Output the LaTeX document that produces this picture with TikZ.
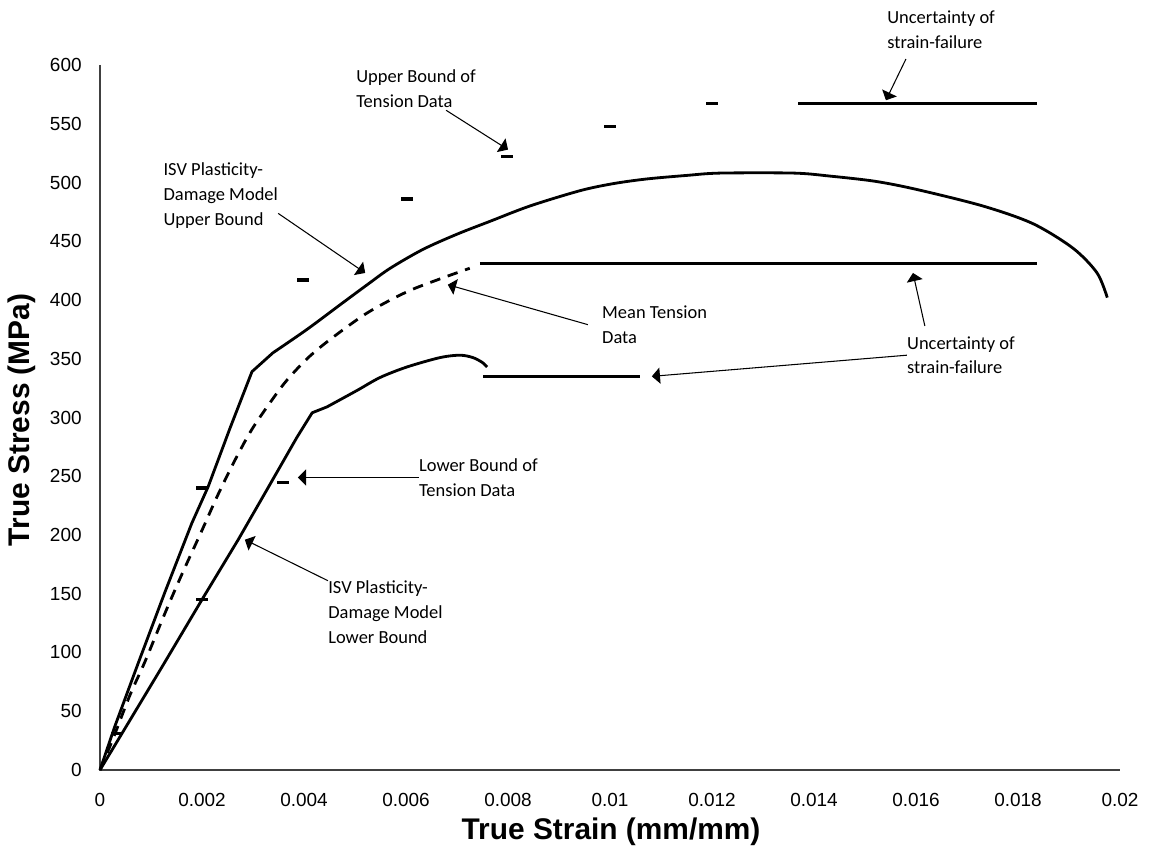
\documentclass[tikz,border=0pt]{standalone}
\usepackage{fontspec}
\setmainfont{Liberation Sans}
\newfontfamily\notefont{Carlito}
\usepackage{tikz}
\usetikzlibrary{arrows}

\begin{document}
\begin{tikzpicture}[x=1.02cm, y=0.0235cm,
  curve/.style={line width=1.6pt, line join=round},
  failline/.style={line width=1.9pt},
  datamark/.style={line width=1.8pt},
  note/.style={font=\notefont\fontsize{10.5}{14.2}\selectfont, align=left, anchor=west, inner sep=0pt},
  pointer/.style={line width=0.6pt, -triangle 90},
  ticklabel/.style={font=\fontsize{10.8}{13}\selectfont, inner sep=0pt},
  axistitle/.style={font=\bfseries\fontsize{17}{20}\selectfont, inner sep=0pt}]
\useasboundingbox (-1.9608,-70.64) rectangle (20.588,655.32);

% axes and labels
\draw[line width=1.1pt, black!75] (0,600) -- (0,0) -- (20,0);
\foreach \s in {0,50,...,600} \node[ticklabel, anchor=east] (ylab\s) at (-0.353,\s) {\s};
\foreach \e/\t in {0/0, 2/0.002, 4/0.004, 6/0.006, 8/0.008, 10/0.01, 12/0.012, 14/0.014, 16/0.016, 18/0.018, 20/0.02}
  \node[ticklabel] (xlab\e) at (\e,-25.5) {\t};
\node[axistitle] (xtitle) at (10.02,-52.8) {True Strain (mm/mm)};
\node[axistitle, rotate=90] (ytitle) at (-1.53,298) {True Stress (MPa)};

% model upper bound
\draw[curve] (0,0) -- (0.29,37) -- (0.75,91) -- (1.27,151) -- (1.8,210) -- (2.12,241) -- (2.55,291) -- (2.98,339)
  -- plot[smooth, tension=0.5] coordinates {(3.39,355) (4.06,375) (4.71,396) (5.24,413) (5.69,427) (6.33,443) (7.0,456) (7.65,467) (8.43,480) (9.41,493) (10.06,499) (10.72,503) (11.5,506) (12.16,508) (13.6,508) (14.3,505.5) (15.2,501) (16.02,494) (17.31,480) (18.29,465) (19.08,444) (19.55,423) (19.75,402)};
% mean tension data
\draw[curve, dash pattern=on 6pt off 4.5pt] plot[smooth, tension=0.5] coordinates {(0,0) (0.25,26) (0.59,64) (0.88,92) (1.27,133) (1.6,166) (2.0,204) (2.31,234) (2.65,264) (2.98,290) (3.39,316) (3.67,332) (4.06,350) (4.5,366) (5.24,389) (6.02,407) (6.67,418) (7.25,427)};
% model lower bound
\draw[curve] (0,0) -- (1.22,88) -- (2.0,145) -- (2.71,196) -- (3.24,236) -- (3.86,283) -- (4.16,304)
  -- plot[smooth, tension=0.5] coordinates {(4.45,309) (5.04,323) (5.49,334) (6.02,343) (6.67,351) (7.06,353) (7.31,351) (7.49,347) (7.59,343)};

% strain-failure ranges
\draw[failline] (13.69,567) -- (18.37,567);
\draw[failline] (7.45,431) -- (18.37,431);
\draw[failline] (7.51,335) -- (10.59,335);

% tension data bounds
\foreach \e/\s in {0.33/31, 2.0/145, 2.0/240, 3.59/245, 3.98/417, 6.02/486, 7.98/522, 10.0/548, 12.0/567}
  \draw[datamark] (\e-0.11,\s) -- (\e+0.11,\s);

% notes
\node[note] (ubnote) at (5.02,580) {Upper Bound of\\Tension Data};
\node[note] (topfail) at (15.43,630) {Uncertainty of\\strain-failure};
\node[note] (isvup) at (1.24,489) {ISV Plasticity-\\Damage Model\\Upper Bound};
\node[note] (meannote) at (9.84,379) {Mean Tension\\Data};
\node[note] (midfail) at (15.82,353) {Uncertainty of\\strain-failure};
\node[note] (lbnote) at (6.25,249) {Lower Bound of\\Tension Data};
\node[note] (isvlow) at (4.47,134) {ISV Plasticity-\\Damage Model\\Lower Bound};

\coordinate (ubtip) at (8.0,528);
\coordinate (toptip) at (15.41,570);
\coordinate (isvuptip) at (5.2,423);
\coordinate (meantip) at (6.82,413);
\coordinate (midtipa) at (15.94,423);
\coordinate (midtipb) at (10.82,335);
\coordinate (lbtip) at (3.88,249);
\coordinate (isvlowtip) at (2.84,196);

\draw[pointer] ([xshift=-0.6cm,yshift=-0.05cm]ubnote.south east) -- (ubtip);
\draw[pointer] ([xshift=0.38cm,yshift=-0.2cm]topfail.south west) -- (toptip);
\draw[pointer] ([yshift=-0.36cm]isvup.east) -- (isvuptip);
\draw[pointer] ([xshift=-0.28cm]meannote.west) -- (meantip);
\draw[pointer] ([xshift=0.36cm,yshift=0.2cm]midfail.north west) -- (midtipa);
\draw[pointer] (midfail.west) -- (midtipb);
\draw[pointer] (lbnote.west) -- (lbtip);
\draw[pointer] (isvlow.north west) -- (isvlowtip);
\end{tikzpicture}
\end{document}
